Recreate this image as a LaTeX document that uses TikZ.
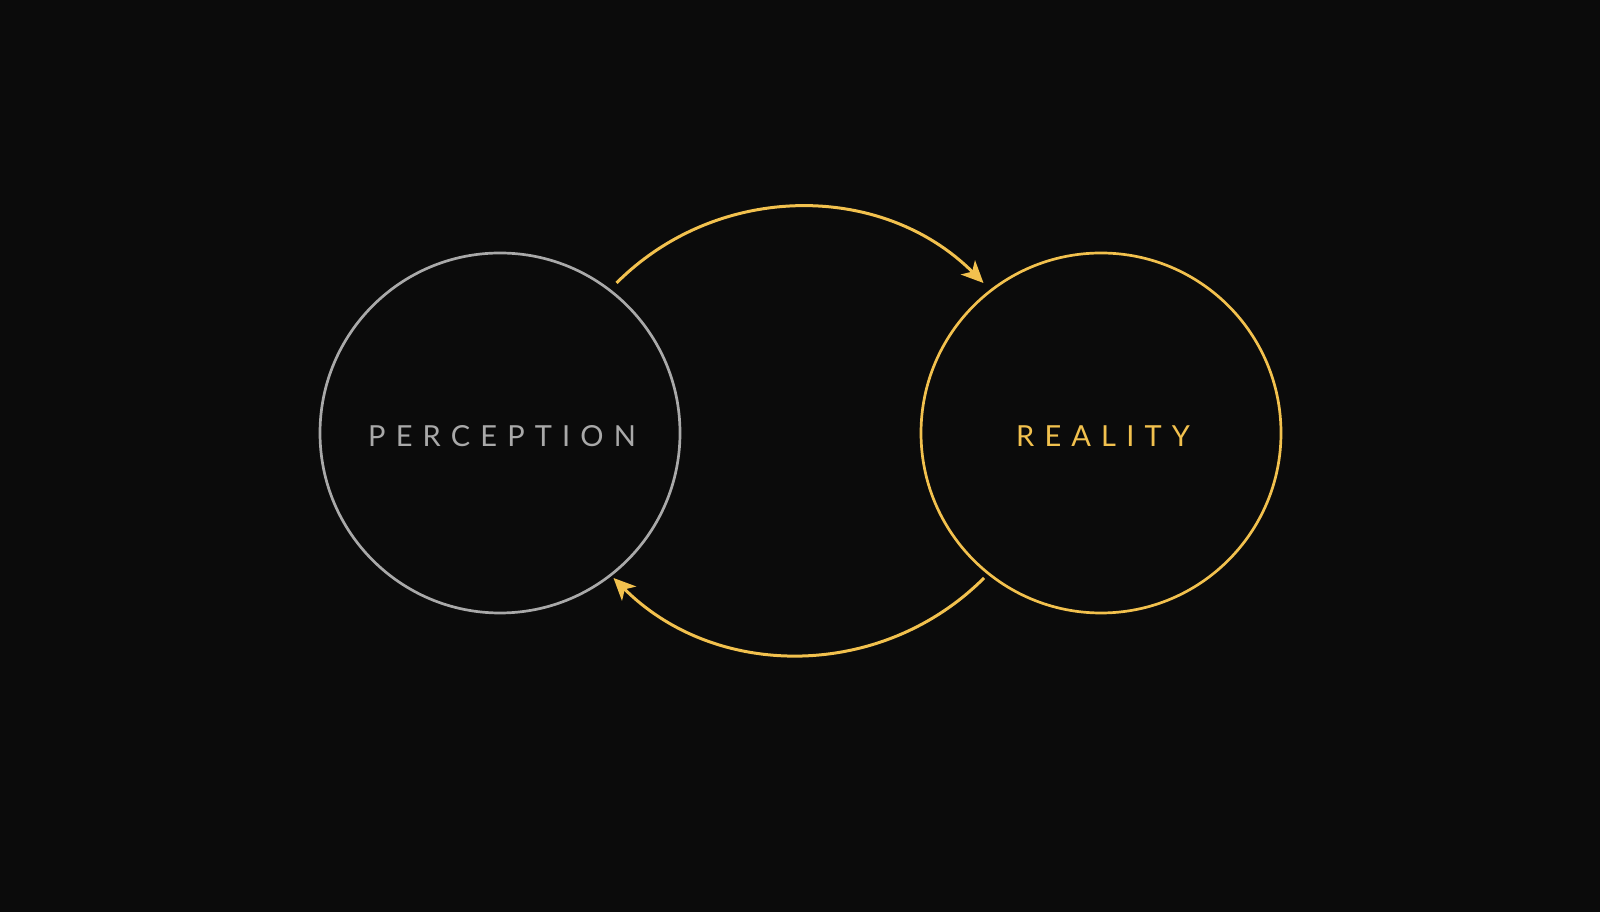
\documentclass[tikz,border=0pt]{standalone}
\usepackage{fontspec}
\setmainfont{Lato}
\newfontfamily\spaced[LetterSpace=35]{Lato}
\usetikzlibrary{arrows.meta}
\definecolor{bg}{HTML}{0B0B0B}
\definecolor{grayline}{HTML}{A9A9A9}
\definecolor{gold}{HTML}{F2C14E}
\tikzset{
  ring/.style={circle, minimum size=360pt, inner sep=0pt, line width=2.7pt},
  lbl/.style={font=\spaced\fontsize{29}{29}\selectfont},
  flow/.style={draw=gold, line width=3pt, -{Stealth[length=22pt,width=20pt,inset=6pt]}}
}
\begin{document}
\begin{tikzpicture}[x=1pt,y=1pt]
\fill[bg] (0,0) rectangle (1600,912);
\useasboundingbox (0,0) rectangle (1600,912);
\node[ring, draw=grayline] (P) at (500,479) {};
\node[ring, draw=gold] (R) at (1101,479) {};
\node[lbl, text=grayline] (Pt) at (502,476) {PERCEPTION};
\node[lbl, text=gold] (Rt) at (1103,476) {REALITY};
\coordinate (a1) at (616.5,629);
\coordinate (b1) at (984,334);
\draw[flow] (a1) arc[start angle=135, end angle=45, radius=259.5];
\draw[flow] (b1) arc[start angle=-45, end angle=-135, radius=262];
\end{tikzpicture}
\end{document}
